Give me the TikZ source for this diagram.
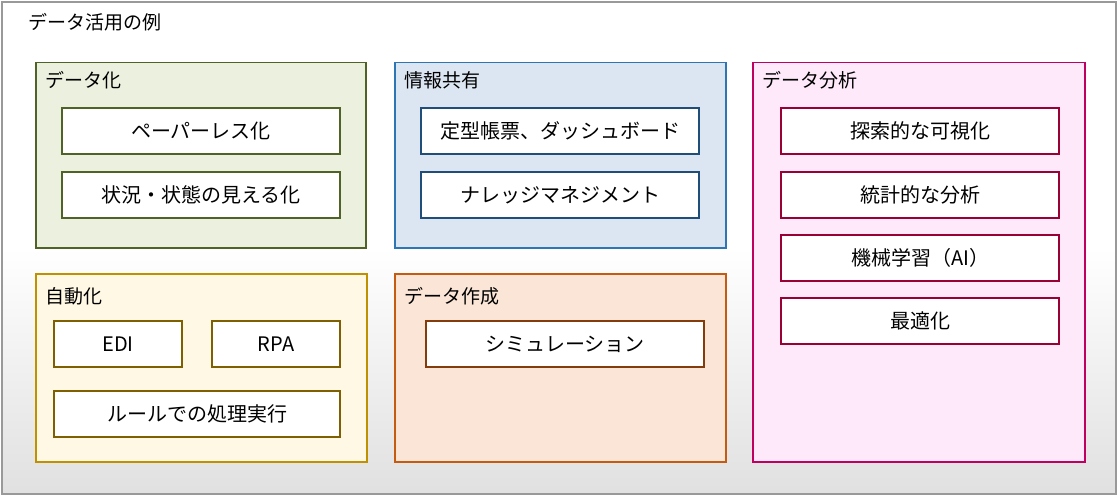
\documentclass[tikz,border=0pt]{standalone}
\usepackage{fontspec}
\setmainfont{Noto Sans CJK JP}
\definecolor{gGreen}{HTML}{4F6228}\definecolor{fGreen}{HTML}{EBF1DE}
\definecolor{gBlue}{HTML}{2E75B6}\definecolor{fBlue}{HTML}{DCE6F2}\definecolor{kBlue}{HTML}{1F4E79}
\definecolor{gPink}{HTML}{C00060}\definecolor{fPink}{HTML}{FDE9FA}\definecolor{kPink}{HTML}{990033}
\definecolor{gYel}{HTML}{BF9000}\definecolor{fYel}{HTML}{FFF8E5}\definecolor{kYel}{HTML}{7F6000}
\definecolor{gOra}{HTML}{C55A11}\definecolor{fOra}{HTML}{FBE5D6}\definecolor{kOra}{HTML}{843C0C}
\tikzset{%
  group/.style={draw=#1, line width=1.5pt, anchor=north west, inner sep=0pt},
  title/.style={anchor=west, font=\fontsize{19}{21}\selectfont, inner sep=0pt},
  item/.style={draw=#1, fill=white, line width=2.2pt, minimum height=46pt, font=\fontsize{20}{22}\selectfont, inner sep=0pt},
}
\begin{document}
\begin{tikzpicture}[x=1pt,y=-1pt]
\useasboundingbox (0,0) rectangle (1119,497);
\shade[top color=white, bottom color=black!12, middle color=white] (2,2) rectangle (1116,494);
\draw[black!40, line width=1.2pt] (2,2) rectangle (1116,494);
\node[title] (main) at (28,22) {データ活用の例};
% groups
\node[group=gGreen, fill=fGreen, minimum width=330pt, minimum height=185pt] (g1) at (35,62) {};
\node[group=gBlue, fill=fBlue, minimum width=331pt, minimum height=185pt] (g2) at (394,62) {};
\node[group=gPink, fill=fPink, minimum width=332pt, minimum height=399pt] (g3) at (752,62) {};
\node[group=gYel, fill=fYel, minimum width=331pt, minimum height=188pt] (g4) at (35,273) {};
\node[group=gOra, fill=fOra, minimum width=331pt, minimum height=188pt] (g5) at (394,273) {};
\node[title] (t1) at (45,80) {データ化};
\node[title] (t2) at (404,80) {情報共有};
\node[title] (t3) at (762,80) {データ分析};
\node[title] (t4) at (45,296) {自動化};
\node[title] (t5) at (404,296) {データ作成};
% items
\node[item=gGreen, minimum width=278pt] (a1) at (201,131) {ペーパーレス化};
\node[item=gGreen, minimum width=278pt] (a2) at (201,195) {状況・状態の見える化};
\node[item=kBlue, minimum width=278pt] (b1) at (560,131) {定型帳票、ダッシュボード};
\node[item=kBlue, minimum width=278pt] (b2) at (560,195) {ナレッジマネジメント};
\node[item=kPink, minimum width=278pt] (c1) at (920,131) {探索的な可視化};
\node[item=kPink, minimum width=278pt] (c2) at (920,195) {統計的な分析};
\node[item=kPink, minimum width=278pt] (c3) at (920,258) {機械学習（AI）};
\node[item=kPink, minimum width=278pt] (c4) at (920,321) {最適化};
\node[item=kYel, minimum width=128pt] (d1) at (118,344) {EDI};
\node[item=kYel, minimum width=128pt] (d2) at (276,344) {RPA};
\node[item=kYel, minimum width=286pt] (d3) at (197,414) {ルールでの処理実行};
\node[item=kOra, minimum width=278pt] (e1) at (565,344) {シミュレーション};
\end{tikzpicture}
\end{document}
